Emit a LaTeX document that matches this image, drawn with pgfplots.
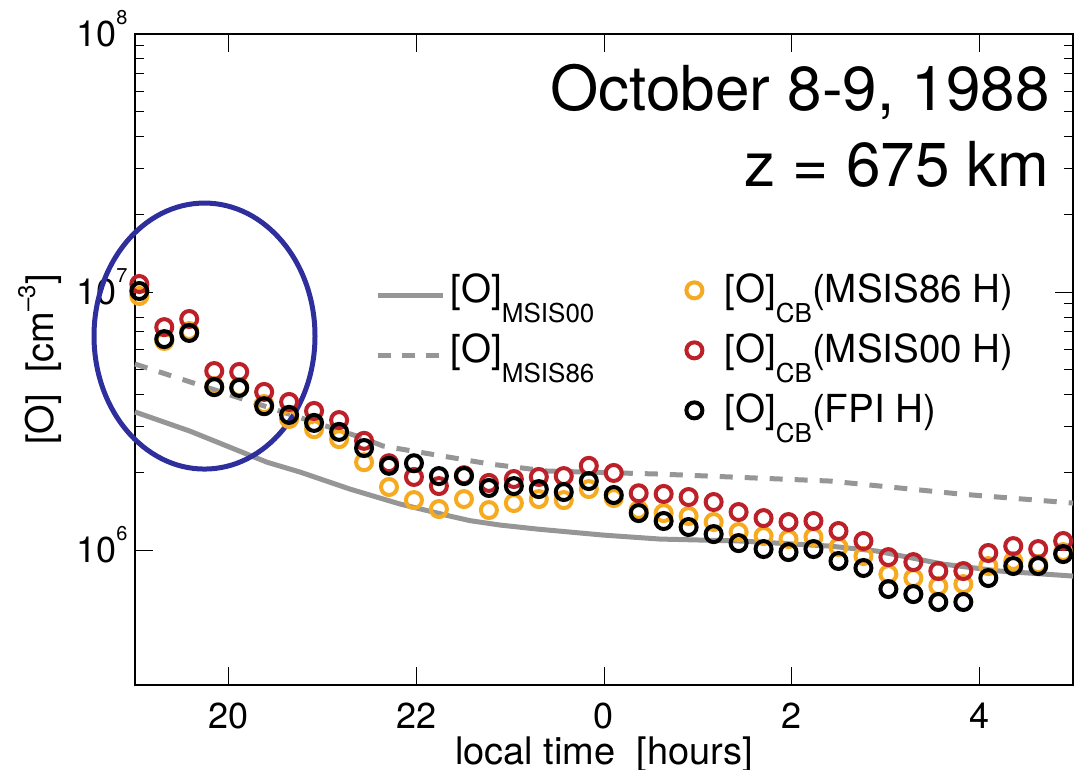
\documentclass[border=0pt]{standalone}
\usepackage{pgfplots}
\pgfplotsset{compat=1.18}
\usepackage{pgfplotstable}
\usepackage{fontspec}
\setmainfont{TeX Gyre Heros}

\definecolor{cbOrange}{RGB}{245,170,32}
\definecolor{cbRed}{RGB}{188,32,40}
\definecolor{msisGray}{RGB}{150,150,150}
\definecolor{ringBlue}{RGB}{46,46,156}

\newcommand{\tenp}[1]{10\smash{\raisebox{11pt}{\fontsize{10}{10}\selectfont #1}}}
\newcommand{\sub}[1]{\raisebox{-10pt}{\fontsize{13}{13}\selectfont #1}}

\pgfplotsset{
  lineleg/.style={legend image code/.code={\draw[##1] (0pt,2.5pt) -- (32.5pt,2.5pt);}},
  markleg/.style={legend image code/.code={\draw[##1] plot coordinates {(5pt,5pt)};}},
  cbmark/.style={only marks, mark=o, mark size=4pt, mark options={line width=2pt}},
}

% local time (hours, 24 = midnight), [O]_CB with MSIS86 H, MSIS00 H, FPI H
\pgfplotstableread{
t      msis86h   msis00h   fpih
19.046 9.65e6    1.074e7   1.009e7
19.312 6.46e6    7.31e6    6.57e6
19.578 7.06e6    7.86e6    6.94e6
19.845 4.32e6    4.94e6    4.28e6
20.111 4.28e6    4.90e6    4.25e6
20.377 3.68e6    4.10e6    3.61e6
20.643 3.22e6    3.75e6    3.34e6
20.909 2.94e6    3.46e6    3.11e6
21.176 2.69e6    3.19e6    2.87e6
21.442 2.19e6    2.65e6    2.485e6
21.708 1.755e6   2.17e6    2.12e6
21.974 1.562e6   1.92e6    2.17e6
22.240 1.442e6   1.77e6    1.935e6
22.507 1.576e6   1.95e6    1.935e6
22.773 1.429e6   1.82e6    1.74e6
23.039 1.521e6   1.885e6   1.77e6
23.305 1.576e6   1.92e6    1.723e6
23.571 1.562e6   1.935e6   1.678e6
23.838 1.723e6   2.12e6    1.851e6
24.104 1.591e6   1.99e6    1.634e6
24.370 1.429e6   1.66e6    1.391e6
24.636 1.391e6   1.65e6    1.296e6
24.902 1.354e6   1.605e6   1.228e6
25.169 1.284e6   1.535e6   1.153e6
25.435 1.174e6   1.404e6   1.064e6
25.701 1.133e6   1.33e6    1.009e6
25.967 1.103e6   1.284e6   9.82e5
26.233 1.123e6   1.296e6   1.009e6
26.500 1.027e6   1.185e6   9.07e5
26.766 9.48e5    1.084e6   8.52e5
27.032 8.07e5    9.39e5    7.06e5
27.298 7.79e5    8.98e5    6.75e5
27.564 7.25e5    8.29e5    6.29e5
27.831 7.38e5    8.29e5    6.29e5
28.097 8.67e5    9.74e5    7.79e5
28.363 9.07e5    1.036e6   8.67e5
28.629 8.82e5    1.009e6   8.67e5
28.895 9.82e5    1.084e6   9.65e5
}\cbdata

\pgfplotstableread{
t      o
19.0   3.43e6
19.586 2.89e6
20.407 2.19e6
20.759 2.006e6
21.292 1.723e6
21.825 1.508e6
22.358 1.354e6
22.571 1.30e6
22.891 1.25e6
23.286 1.206e6
23.989 1.143e6
24.597 1.103e6
25.450 1.084e6
26.409 1.036e6
26.910 9.91e5
27.614 8.82e5
28.222 8.29e5
29.0   7.93e5
}\msisnull

\pgfplotstableread{
t      o
19.0   5.26e6
20.119 3.88e6
21.399 2.74e6
21.644 2.53e6
22.785 2.154e6
23.392 2.024e6
24.597 1.970e6
26.409 1.851e6
27.795 1.649e6
29.0   1.521e6
}\msiseightsix

\begin{document}
\begin{tikzpicture}
\begin{axis}[
  name=ax,
  scale only axis,
  width=469pt, height=325.5pt,
  xmin=19, xmax=29,
  ymode=log, ymin=3e5, ymax=1e8,
  xtick={20,22,24,26,28},
  xticklabels={20,22,0,2,4},
  ytick={1e6,1e7,1e8},
  yticklabels={\tenp{6},\tenp{7},\tenp{8}},
  tick align=inside,
  major tick length=9pt,
  minor tick length=4.5pt,
  every tick/.style={black, line width=0.5pt},
  axis line style={line width=0.6pt},
  tick label style={font=\fontsize{18}{20}\selectfont},
  xticklabel style={anchor=base, inner sep=0pt, yshift=-22pt},
  yticklabel style={anchor=east, inner sep=0pt, xshift=-3.5pt},
  xlabel={local time\ \ [hours]},
  ylabel={[O]\ \ [cm\raisebox{9pt}{\fontsize{12}{12}\selectfont –3}]},
  label style={font=\fontsize{19}{21}\selectfont},
  xlabel style={at={(axis description cs:0.5,-0.1215)}, anchor=base},
  ylabel style={at={(axis description cs:-0.0874,0.5)}, anchor=base},
  clip=false,
  legend columns=2,
  legend cell align=left,
  legend style={at={(rel axis cs:0.2559,0.6375)}, anchor=north west,
    draw=none, fill=none, inner sep=0pt, row sep=0pt,
    font=\fontsize{19.3}{21}\selectfont,
    nodes={text height=15pt, text depth=13pt, inner sep=1pt},
    /tikz/column 1/.style={column sep=1.5pt},
    /tikz/column 2/.style={column sep=45pt},
    /tikz/column 3/.style={column sep=10pt}},
]
\addlegendimage{lineleg, msisGray, line width=2.5pt}
\addlegendentry{[O]\sub{MSIS00}}
\addlegendimage{markleg, cbmark, cbOrange}
\addlegendentry{[O]\sub{CB}(MSIS86 H)}
\addlegendimage{lineleg, msisGray, line width=2.5pt, dash pattern=on 6.5pt off 5.5pt}
\addlegendentry{[O]\sub{MSIS86}}
\addlegendimage{markleg, cbmark, cbRed}
\addlegendentry{[O]\sub{CB}(MSIS00 H)}
\addlegendimage{empty legend}
\addlegendentry{}
\addlegendimage{markleg, cbmark, black}
\addlegendentry{[O]\sub{CB}(FPI H)}

\addplot[forget plot, msisGray, line width=2.5pt] table[x=t, y=o] {\msisnull};
\addplot[forget plot, msisGray, line width=2.5pt, dash pattern=on 6.5pt off 6pt] table[x=t, y=o] {\msiseightsix};
\addplot[forget plot, cbmark, cbOrange] table[x=t, y=msis86h] {\cbdata};
\addplot[forget plot, cbmark, cbRed] table[x=t, y=msis00h] {\cbdata};
\addplot[forget plot, cbmark, black] table[x=t, y=fpih] {\cbdata};

\draw[ringBlue, line width=2.5pt] (axis cs:19.741,6.75e6) ellipse [x radius=55.25pt, y radius=66.5pt];

\node[anchor=base east, inner sep=0pt, font=\fontsize{31}{31}\selectfont] at (rel axis cs:0.9755,0.883) {October 8-9, 1988};
\node[anchor=base east, inner sep=0pt, font=\fontsize{31}{31}\selectfont] at (rel axis cs:0.9755,0.766) {z = 675 km};
\end{axis}
\pgfresetboundingbox
\path[use as bounding box] ([shift={(-67.5pt,-42.5pt)}]ax.south west) rectangle ([shift={(473.5pt,342.5pt)}]ax.south west);
\end{tikzpicture}
\end{document}
